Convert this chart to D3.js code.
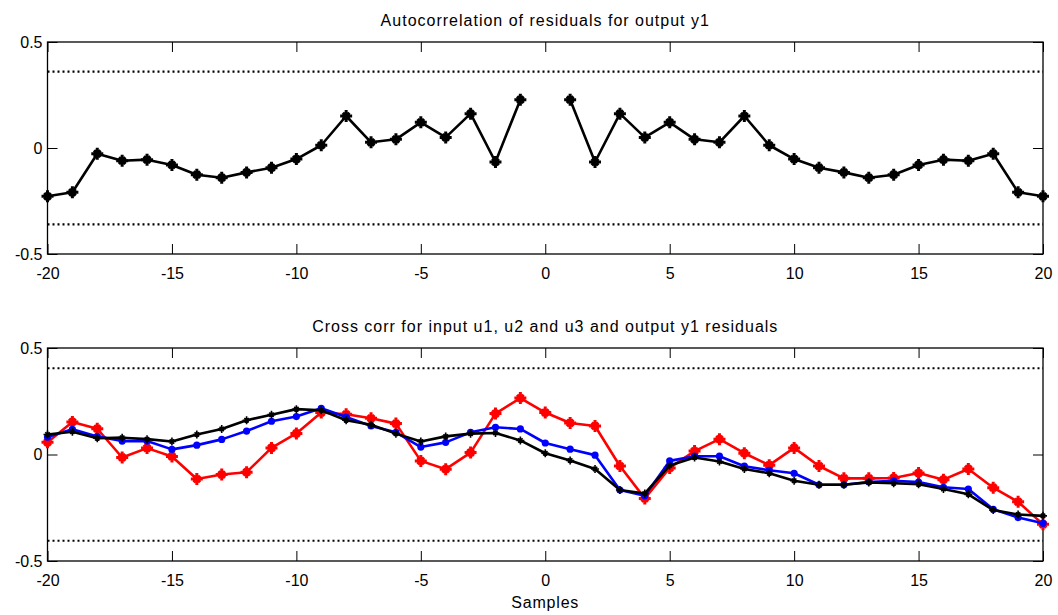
<!DOCTYPE html>
<meta charset="utf-8">
<script src="https://d3js.org/d3.v7.min.js"></script>
<style>
  body { margin: 0; background: #fff; }
  text { font-family: "Liberation Sans", Arial, sans-serif; fill: #000; }
</style>
<div id="chart"></div>
<script>
// lags -20..20
var lags = d3.range(-20, 21);
var xTicks = [-20, -15, -10, -5, 0, 5, 10, 15, 20];
var yTicks = [-0.5, 0, 0.5];

// autocorrelation of residuals (lag 0 left out)
var autoHalf = [0.228, -0.066, 0.162, 0.050, 0.121, 0.041, 0.027, 0.151, 0.013, -0.052,
                -0.093, -0.115, -0.140, -0.126, -0.080, -0.055, -0.060, -0.027, -0.209, -0.228];
var autoCorr = autoHalf.slice().reverse().concat([null], autoHalf);
var autoConf = 0.36;

// cross correlation, inputs u1 (blue), u2 (black), u3 (red)
var crossRed = [0.057, 0.153, 0.121, -0.014, 0.030, -0.009, -0.115, -0.094, -0.083, 0.031,
                0.099, 0.197, 0.189, 0.170, 0.145, -0.030, -0.069, 0.009, 0.192, 0.265,
                0.197, 0.148, 0.134, -0.054, -0.206, -0.063, 0.016, 0.072, 0.006, -0.050,
                0.031, -0.054, -0.112, -0.112, -0.110, -0.087, -0.118, -0.068, -0.156, -0.222, -0.328];
var crossBlue = [0.082, 0.118, 0.085, 0.063, 0.063, 0.024, 0.044, 0.071, 0.110, 0.156,
                 0.178, 0.217, 0.176, 0.134, 0.104, 0.035, 0.057, 0.104, 0.128, 0.120,
                 0.054, 0.025, -0.003, -0.167, -0.194, -0.030, -0.008, -0.008, -0.055, -0.074,
                 -0.088, -0.142, -0.142, -0.129, -0.124, -0.129, -0.154, -0.162, -0.257, -0.296, -0.323];
var crossBlack = [0.094, 0.107, 0.076, 0.079, 0.072, 0.061, 0.094, 0.120, 0.161, 0.187,
                  0.213, 0.208, 0.161, 0.140, 0.098, 0.061, 0.085, 0.098, 0.101, 0.066,
                  0.006, -0.028, -0.068, -0.167, -0.183, -0.052, -0.014, -0.033, -0.068, -0.088,
                  -0.123, -0.142, -0.142, -0.131, -0.135, -0.140, -0.162, -0.187, -0.261, -0.282, -0.288];
var crossConf = 0.405;

var W = 1058, H = 615;
var svg = d3.select("#chart").append("svg").attr("width", W).attr("height", H);

var x = d3.scaleLinear().domain([-20, 20]).range([47.5, 1043]);

// matlab style '*' marker: a plus with shorter diagonals
function starPath(s, k) {
  var a = s / 2, d = a * k;
  return "M" + (-a) + ",0L" + a + ",0M0," + (-a) + "L0," + a +
         "M" + (-d) + "," + (-d) + "L" + d + "," + d +
         "M" + (-d) + "," + d + "L" + d + "," + (-d);
}

function fmt(d) { return String(d); } // plain hyphen minus

function panel(top, bottom, title, conf) {
  var y = d3.scaleLinear().domain([-0.5, 0.5]).range([bottom, top]);
  var g = svg.append("g");

  g.append("text").attr("x", (x.range()[0] + x.range()[1]) / 2).attr("y", top - 16)
    .attr("text-anchor", "middle").style("font-size", "16px").style("letter-spacing", "1px").text(title);

  // dotted confidence bounds
  [conf, -conf].forEach(function (c) {
    g.append("line").attr("x1", x(-20)).attr("x2", x(20))
      .attr("y1", y(c)).attr("y2", y(c))
      .attr("stroke", "#000").attr("stroke-width", 2.2).attr("stroke-dasharray", "2,3");
  });

  // axes: labelled left/bottom, inward ticks on all sides
  g.append("g").attr("transform", "translate(0," + bottom + ")")
    .call(d3.axisBottom(x).tickValues(xTicks).tickSize(-10).tickPadding(14).tickFormat(fmt));
  g.append("g").attr("transform", "translate(0," + top + ")")
    .call(d3.axisTop(x).tickValues(xTicks).tickSize(-10).tickFormat(""));
  g.append("g").attr("transform", "translate(" + x(-20) + ",0)")
    .call(d3.axisLeft(y).tickValues(yTicks).tickSize(-10).tickPadding(5).tickFormat(fmt));
  g.append("g").attr("transform", "translate(" + x(20) + ",0)")
    .call(d3.axisRight(y).tickValues(yTicks).tickSize(-10).tickFormat(""));
  g.selectAll(".tick line").attr("stroke", "#000");
  g.selectAll(".tick text").style("font-size", "16px").attr("fill", "#000")
    .style("font-family", "'Liberation Sans', Arial, sans-serif");
  g.selectAll(".domain").attr("d", null);
  g.append("rect").attr("x", x(-20)).attr("y", top).attr("width", x(20) - x(-20))
    .attr("height", bottom - top).attr("fill", "none").attr("stroke", "#000").attr("stroke-width", 1.3);
  return { g: g, y: y };
}

function series(p, values, color, marker, size, sw) {
  var pts = lags.map(function (l, i) { return { lag: l, v: values[i] }; });
  var line = d3.line().defined(function (d) { return d.v !== null; })
    .x(function (d) { return x(d.lag); }).y(function (d) { return p.y(d.v); });
  p.g.append("path").datum(pts).attr("d", line)
    .attr("fill", "none").attr("stroke", color).attr("stroke-width", 2.6).attr("stroke-linejoin", "round");
  var m = p.g.append("g").selectAll("g").data(pts.filter(function (d) { return d.v !== null; }))
    .join("g").attr("transform", function (d) { return "translate(" + x(d.lag) + "," + p.y(d.v) + ")"; });
  if (marker === "dot") {
    m.append("circle").attr("r", size).attr("fill", color);
  } else {
    m.append("path").attr("d", starPath(size, 0.55)).attr("stroke", color).attr("stroke-width", sw).attr("fill", "none");
  }
}

var p1 = panel(42, 254, "Autocorrelation of residuals for output y1", autoConf);
series(p1, autoCorr, "#000", "star", 12, 3);

var p2 = panel(348, 561, "Cross corr for input u1, u2 and u3 and output y1 residuals", crossConf);
series(p2, crossRed, "#ff0000", "star", 12, 3);
series(p2, crossBlue, "#0000ff", "dot", 3.6);
series(p2, crossBlack, "#000", "star", 8, 1.6);

svg.append("text").attr("x", x(0)).attr("y", 608).attr("text-anchor", "middle")
  .style("font-size", "16px").style("letter-spacing", "0.8px").text("Samples");
</script>
</html>
